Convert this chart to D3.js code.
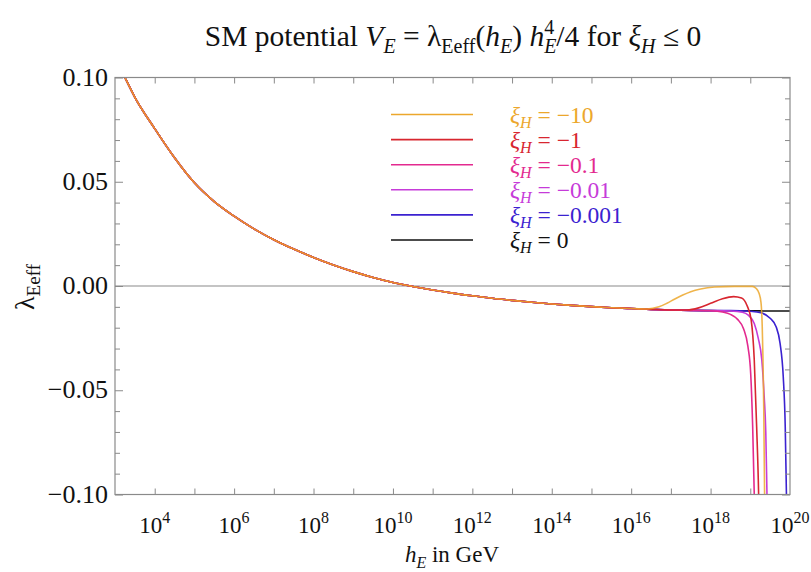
<!DOCTYPE html>
<html><head><meta charset="utf-8">
<script src="https://cdn.jsdelivr.net/npm/d3@7"></script>
<style>
body{margin:0;background:#fff;}
text{font-family:"Liberation Serif","DejaVu Serif",serif;}
</style></head>
<body><svg id="c" width="811" height="572"></svg>
<script>
// ---- data (log10 of h_E in GeV, lambda_Eeff) ----
const commonLogH = [3.0,3.25,3.5,4.0,4.5,5.0,5.5,6.0,6.5,7.0,7.5,8.0,8.5,9.0,9.5,10.0,10.5,11.0,11.5,12.0,12.5,13.0,13.5,14.0,14.5,15.0,15.5,16.0];
const commonLambda = [0.110,0.100,0.0905,0.0755,0.0615,0.0495,0.0405,0.0335,0.0274,0.0222,0.0177,0.0137,0.0101,0.0069,0.0041,0.0017,-0.0002,-0.0019,-0.0034,-0.0047,-0.0059,-0.0069,-0.0078,-0.0086,-0.0093,-0.0099,-0.0104,-0.0108];

const seriesLabels = ["\u221210","\u22121","\u22120.1","\u22120.01","\u22120.001","0"];
const seriesColors = ["#eca72c","#d8262f","#e32a8f","#c63bd9","#3b22d0","#111111"];

const tailLogH = [
  [16.4,16.7,16.9,17.1,17.3,17.5,17.75,18.1,18.6,19.05,19.15,19.22,19.27,19.30,19.32,19.34,19.36,19.37],
  [16.5,17.0,17.4,17.7,18.0,18.3,18.58,18.78,18.92,19.02,19.10,19.16,19.21,19.22],
  [16.5,17.0,17.5,18.0,18.3,18.5,18.68,18.83,18.94,19.01,19.06,19.10,19.11],
  [16.5,17.0,17.5,18.0,18.5,18.8,18.95,19.1,19.2,19.29,19.35,19.39,19.42,19.43],
  [16.5,17.0,17.5,18.0,18.5,19.0,19.3,19.5,19.65,19.75,19.83,19.88,19.91,19.92],
  [16.5,17.0,17.5,18.0,18.5,19.0,19.5,20.0]
];
const tailLambda = [
  [-0.0110,-0.0100,-0.0083,-0.0062,-0.0043,-0.0027,-0.0014,-0.0005,-0.0002,-0.0002,-0.0012,-0.0035,-0.0080,-0.0190,-0.0350,-0.0600,-0.100,-0.110],
  [-0.0112,-0.0115,-0.0115,-0.0105,-0.0083,-0.0061,-0.0051,-0.0058,-0.0095,-0.0160,-0.0355,-0.0675,-0.100,-0.110],
  [-0.0112,-0.0115,-0.0117,-0.0119,-0.0125,-0.0136,-0.0160,-0.0205,-0.0290,-0.0420,-0.0675,-0.100,-0.110],
  [-0.0112,-0.0115,-0.0117,-0.0118,-0.0120,-0.0126,-0.0140,-0.0180,-0.0250,-0.0355,-0.0530,-0.0700,-0.100,-0.110],
  [-0.0112,-0.0115,-0.0117,-0.0118,-0.0118,-0.0121,-0.0130,-0.0155,-0.0195,-0.0275,-0.0435,-0.0675,-0.100,-0.110],
  [-0.0112,-0.0115,-0.0117,-0.0118,-0.0119,-0.0119,-0.0120,-0.0120]
];

const xTickExps = [4,5,6,7,8,9,10,11,12,13,14,15,16,17,18,19];
const xLabelExps = [4,6,8,10,12,14,16,18,20];
const yMajorTicks = [-0.10,-0.05,0,0.05,0.10];
const yMajorLabels = ["\u22120.10","\u22120.05","0.00","0.05","0.10"];
const yMinorTicks = [-0.09,-0.08,-0.07,-0.06,-0.04,-0.03,-0.02,-0.01,0.01,0.02,0.03,0.04,0.06,0.07,0.08,0.09];

// ---- layout ----
const L = 115, R = 790, T = 77.5, B = 494.5;
const svg = d3.select("#c");
const x = d3.scaleLog().domain([1e3,1e20]).range([L,R]);
const y = d3.scaleLinear().domain([-0.1,0.1]).range([B,T]);
const frameColor = "#8a8a8a";

svg.append("defs").append("clipPath").attr("id","clip")
  .append("rect").attr("x",L).attr("y",T).attr("width",R-L).attr("height",B-T);

// zero line
svg.append("line").attr("x1",L).attr("x2",R).attr("y1",y(0)).attr("y2",y(0))
  .attr("stroke","#8a8a8a").attr("stroke-width",1.2);

// curves (drawn from xi=0 up to xi=-10 so orange ends on top)
const line = d3.line().x(d=>x(Math.pow(10,d[0]))).y(d=>y(d[1])).curve(d3.curveMonotoneX);
const g = svg.append("g").attr("clip-path","url(#clip)");
for (let i = seriesLabels.length-1; i >= 0; i--) {
  const start = tailLogH[i][0];
  const pts = [];
  commonLogH.forEach((h,k)=>{ if (h < start) pts.push([h, commonLambda[k]]); });
  tailLogH[i].forEach((h,k)=>pts.push([h, tailLambda[i][k]]));
  g.append("path").attr("d", line(pts)).attr("fill","none")
    .attr("stroke", seriesColors[i]).attr("stroke-width",1.6)
    .attr("stroke-opacity", i===0 ? 0.85 : 1);
}

// axes ticks (inward)
function styleAxis(sel){
  sel.select(".domain").remove();
  sel.selectAll(".tick line").attr("stroke",frameColor).attr("stroke-width",1);
  sel.selectAll(".tick text").remove();
}
const xt = xTickExps.map(e=>Math.pow(10,e));
svg.append("g").attr("transform",`translate(0,${B})`)
  .call(d3.axisBottom(x).tickValues(xt).tickSize(-6).tickFormat("")).call(styleAxis);
svg.append("g").attr("transform",`translate(0,${T})`)
  .call(d3.axisTop(x).tickValues(xt).tickSize(-6).tickFormat("")).call(styleAxis);
svg.append("g").attr("transform",`translate(${L},0)`)
  .call(d3.axisLeft(y).tickValues(yMajorTicks).tickSize(-8).tickFormat("")).call(styleAxis);
svg.append("g").attr("transform",`translate(${L},0)`)
  .call(d3.axisLeft(y).tickValues(yMinorTicks).tickSize(-5).tickFormat("")).call(styleAxis);
svg.append("g").attr("transform",`translate(${R},0)`)
  .call(d3.axisRight(y).tickValues(yMajorTicks).tickSize(-8).tickFormat("")).call(styleAxis);
svg.append("g").attr("transform",`translate(${R},0)`)
  .call(d3.axisRight(y).tickValues(yMinorTicks).tickSize(-5).tickFormat("")).call(styleAxis);

// frame
svg.append("rect").attr("x",L).attr("y",T).attr("width",R-L).attr("height",B-T)
  .attr("fill","none").attr("stroke",frameColor).attr("stroke-width",1.2);

// x labels
xLabelExps.forEach(e=>{
  const t = svg.append("text").attr("x", x(Math.pow(10,e))).attr("y",533)
    .attr("text-anchor","middle").attr("font-size",23).attr("fill","#111");
  t.append("tspan").text("10");
  t.append("tspan").attr("dy",-10).attr("font-size",16).text(String(e));
});
// y labels
yMajorTicks.forEach((v,i)=>{
  svg.append("text").attr("x",108).attr("y",y(v)+8).attr("text-anchor","end")
    .attr("font-size",26).attr("fill","#111").text(yMajorLabels[i]);
});

// axis titles
const xt2 = svg.append("text").attr("x",452).attr("y",562).attr("text-anchor","middle")
  .attr("font-size",23).attr("fill","#111");
xt2.append("tspan").attr("font-style","italic").text("h");
xt2.append("tspan").attr("font-style","italic").attr("font-size",16).attr("dy",6).text("E");
xt2.append("tspan").attr("dy",-6).text(" in GeV");

const yt = svg.append("text").attr("transform","translate(34,287) rotate(-90)")
  .attr("text-anchor","middle").attr("font-size",28).attr("fill","#111");
yt.append("tspan").text("\u03bb");
yt.append("tspan").attr("font-size",19).attr("dy",6).text("Eeff");

// title
const tt = svg.append("text").attr("x",453).attr("y",46).attr("text-anchor","middle")
  .attr("font-size",29.5).attr("fill","#111");
tt.append("tspan").text("SM potential ");
tt.append("tspan").attr("font-style","italic").text("V");
tt.append("tspan").attr("font-style","italic").attr("font-size",20).attr("dy",7).text("E");
tt.append("tspan").attr("dy",-7).text(" = \u03bb");
tt.append("tspan").attr("font-size",20).attr("dy",7).text("Eeff");
tt.append("tspan").attr("dy",-7).text("(");
tt.append("tspan").attr("font-style","italic").text("h");
tt.append("tspan").attr("font-style","italic").attr("font-size",20).attr("dy",7).text("E");
tt.append("tspan").attr("dy",-7).text(") ");
tt.append("tspan").attr("font-style","italic").text("h");
tt.append("tspan").attr("font-size",20).attr("dy",-12).text("4");
tt.append("tspan").attr("font-style","italic").attr("font-size",20).attr("dx",-10).attr("dy",19).text("E");
tt.append("tspan").attr("dy",-7).text("/4 for ");
tt.append("tspan").attr("font-style","italic").text("\u03be");
tt.append("tspan").attr("font-style","italic").attr("font-size",20).attr("dy",7).text("H");
tt.append("tspan").attr("dy",-7).text(" \u2264 0");

// legend
seriesLabels.forEach((lab,i)=>{
  const yy = 114.5 + i*25.1;
  svg.append("line").attr("x1",391).attr("x2",473).attr("y1",yy).attr("y2",yy)
    .attr("stroke",seriesColors[i]).attr("stroke-width",1.6);
  const t = svg.append("text").attr("x",510).attr("y",yy+8).attr("font-size",23.5)
    .attr("fill",seriesColors[i]);
  t.append("tspan").attr("font-style","italic").text("\u03be");
  t.append("tspan").attr("font-style","italic").attr("font-size",16).attr("dy",5).text("H");
  t.append("tspan").attr("dy",-5).text(" = " + lab);
});
</script></body></html>
